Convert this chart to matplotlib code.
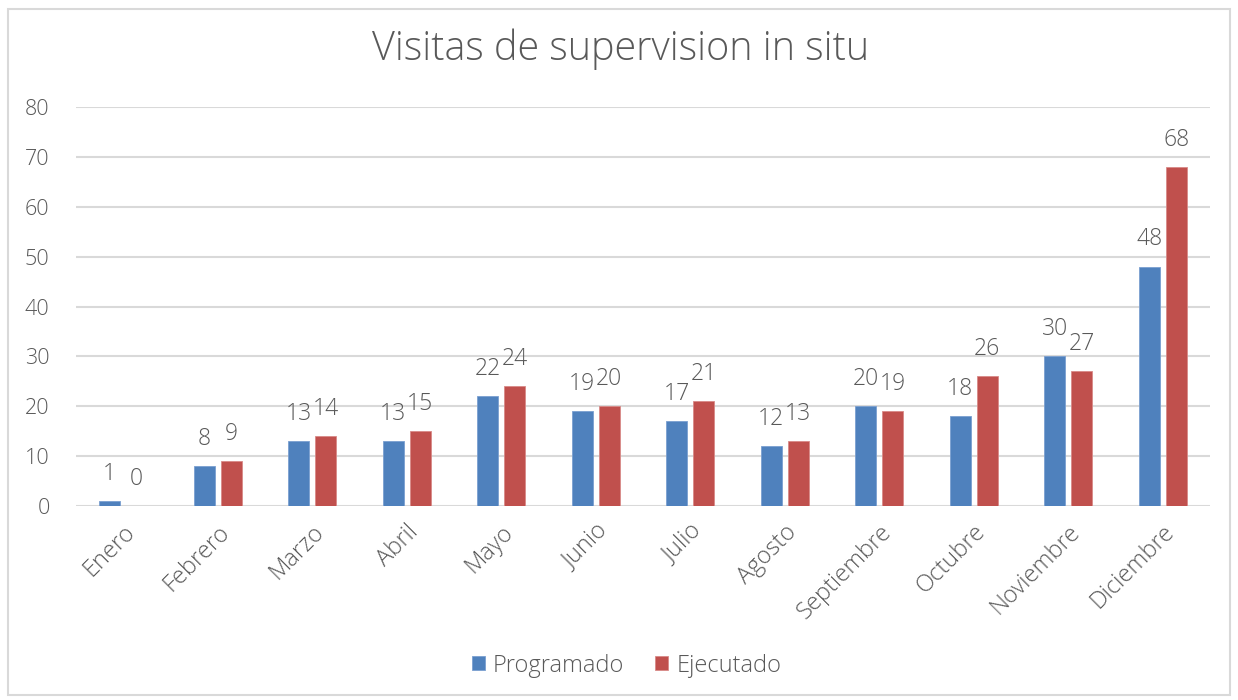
import numpy as np
import matplotlib.pyplot as plt
from matplotlib.patches import Rectangle

meses = ['Enero', 'Febrero', 'Marzo', 'Abril', 'Mayo', 'Junio', 'Julio',
         'Agosto', 'Septiembre', 'Octubre', 'Noviembre', 'Diciembre']
programado = [1, 8, 13, 13, 22, 19, 17, 12, 20, 18, 30, 48]
ejecutado = [0, 9, 14, 15, 24, 20, 21, 13, 19, 26, 27, 68]

azul = '#4f81bd'
rojo = '#c0504d'
gris = '#595959'

plt.rcParams['font.family'] = ['Open Sans', 'DejaVu Sans']
plt.rcParams['font.weight'] = 'light'

fig = plt.figure(figsize=(12.38, 7), dpi=100)
ax = fig.add_axes([0.0614, 0.277, 0.916, 0.570])

x = np.arange(len(meses))
w = 0.22
gap = 0.065
b1 = ax.bar(x - (w + gap) / 2, programado, w, color=azul, edgecolor='#7a9fd0', linewidth=0.6, label='Programado', zorder=3)
b2 = ax.bar(x + (w + gap) / 2, ejecutado, w, color=rojo, edgecolor='#d88a88', linewidth=0.6, label='Ejecutado', zorder=3)

for bars in (b1, b2):
    ax.bar_label(bars, padding=11, fontsize=16.5, color=gris)

ax.set_xlim(-0.5, len(meses) - 0.5)
ax.set_ylim(0, 80)
ax.set_yticks(range(0, 81, 10))
ax.set_xticks(x)
ax.set_xticklabels(meses, rotation=45, ha='right', rotation_mode='anchor',
                   fontsize=17, color=gris)
ax.tick_params(axis='y', labelsize=15.5, labelcolor=gris, length=0, pad=19)
ax.tick_params(axis='x', length=0, pad=10)
ax.grid(axis='y', color='#d9d9d9', linewidth=1.5, zorder=0)
for s in ax.spines.values():
    s.set_visible(False)

fig.text(0.501, 0.929, 'Visitas de supervision in situ', ha='center', va='center',
         fontsize=28.5, color=gris)

fig.legend(handles=[b1, b2], loc='center', bbox_to_anchor=(0.506, 0.049), ncol=2,
           frameon=False, fontsize=17, handlelength=0.55, handleheight=0.55,
           handletextpad=0.35, columnspacing=1.3, labelcolor=gris)

fig.patches.append(Rectangle((8 / 1238, 5 / 700), 1222 / 1238, 686 / 700,
                             transform=fig.transFigure, fill=False,
                             edgecolor='#d9d9d9', linewidth=1.5))

fig.savefig('out.png', dpi=100)
